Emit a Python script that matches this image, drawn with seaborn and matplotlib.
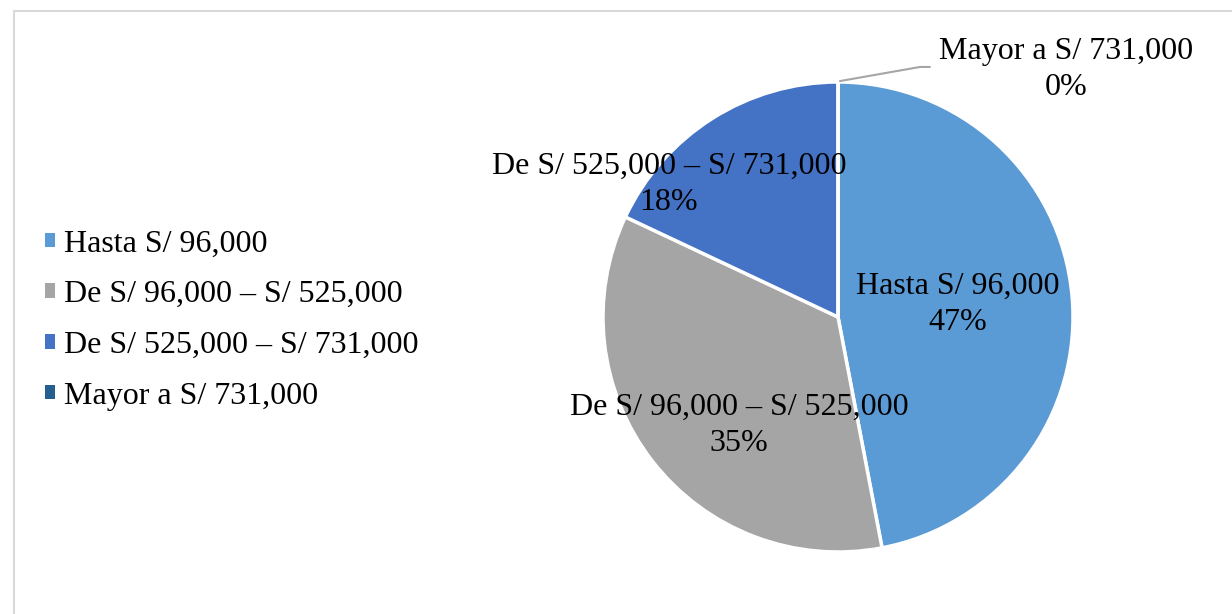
import numpy as np
import matplotlib
matplotlib.use('Agg')
import matplotlib.pyplot as plt
import matplotlib.patches as mpatches
import seaborn as sns

# data
categorias = ['Hasta S/ 96,000', 'De S/ 96,000 – S/ 525,000',
              'De S/ 525,000 – S/ 731,000', 'Mayor a S/ 731,000']
porcentajes = [47, 35, 18, 0]
etiquetas_pct = ['47%', '35%', '18%', '0%']
colores = ['#5B9BD5', '#A5A5A5', '#4472C4', '#255E91']

sns.set_theme(style='white')
plt.rcParams['font.family'] = ['Liberation Serif', 'DejaVu Serif']
plt.rcParams['text.color'] = 'black'

fig = plt.figure(figsize=(12.32, 6.14), dpi=100)

# outer light border
fig.patches.append(mpatches.Rectangle((14/1232, -0.05), 1.1, 1 - 11/614 + 0.05,
                                      transform=fig.transFigure, fill=False,
                                      edgecolor='#D9D9D9', linewidth=1.5))

# pie axes: centre (838, 317) px, radius 235 px
ax = fig.add_axes([(838 - 235)/1232, (614 - 317 - 235)/614, 470/1232, 470/614])
wedges, _ = ax.pie(porcentajes, colors=colores, startangle=90, counterclock=False,
                   wedgeprops=dict(edgecolor='white', linewidth=2.5))
ax.set_xlim(-1, 1)
ax.set_ylim(-1, 1)
ax.set_aspect('equal')
ax.axis('off')

# data labels (Excel-style placement)
pos_labels = [(0.51, 0.055), (-0.42, -0.46), (-0.72, 0.565), (0.97, 1.055)]
for cat, pct, (x, y) in zip(categorias, etiquetas_pct, pos_labels):
    ax.text(x, y, f'{cat}\n{pct}', ha='center', va='center', fontsize=23,
            color='black', linespacing=1.32, clip_on=False)

# leader line for the 0% slice
ax.plot([0.0085, 0.349, 0.391], [1.004, 1.064, 1.064], color='#A6A6A6',
        linewidth=1.5, clip_on=False)

handles = [mpatches.Patch(facecolor=c, edgecolor='none') for c in colores]
leg = fig.legend(handles, categorias, loc='center left',
                 bbox_to_anchor=(45/1232, 1 - 320/614),
                 frameon=False, fontsize=23, handlelength=0.32, handleheight=0.32,
                 handletextpad=0.28, labelspacing=0.68, borderpad=0, borderaxespad=0)
for t in leg.get_texts():
    t.set_color('black')

fig.savefig('out.png', dpi=100)
